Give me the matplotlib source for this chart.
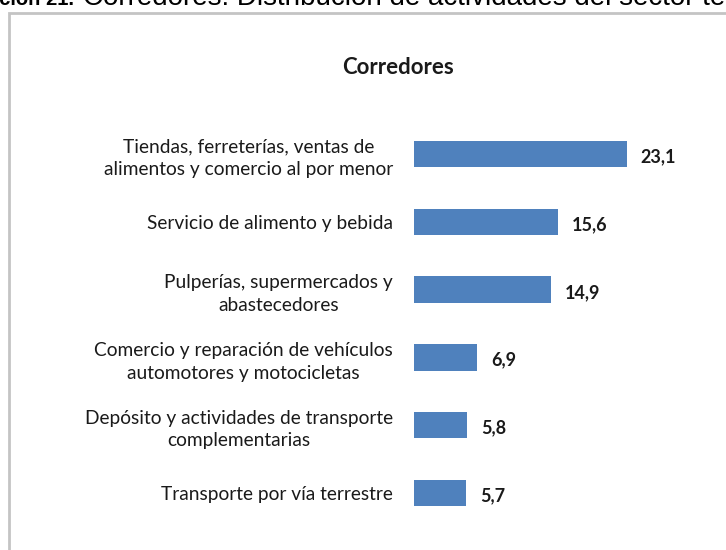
import matplotlib.pyplot as plt
from matplotlib.patches import Rectangle

# data (percent)
categories = [
    "Tiendas, ferreterías, ventas de\nalimentos y comercio al por menor",
    "Servicio de alimento y bebida",
    "Pulperías, supermercados y\nabastecedores",
    "Comercio y reparación de vehículos\nautomotores y motocicletas",
    "Depósito y actividades de transporte\ncomplementarias",
    "Transporte por vía terrestre",
]
values = [23.1, 15.6, 14.9, 6.9, 5.8, 5.7]
value_labels = ["23,1", "15,6", "14,9", "6,9", "5,8", "5,7"]

W, H = 726, 550
FONT = ["Lato", "DejaVu Sans"]
TXT = "#1a1a1a"
BAR = "#4f81bd"

plt.rcParams["font.family"] = FONT

fig = plt.figure(figsize=(W / 100, H / 100), dpi=100)

# outer chart frame (cut off at right and bottom like the screenshot)
fig.patches.append(Rectangle((9 / W, -0.1), 2.0, 1 - 13 / H + 0.1,
                             transform=fig.transFigure, fill=False,
                             edgecolor="#c4c4c4", linewidth=2.0))

# caption line cut off at the top of the screenshot
cap = ["Liberation Sans", "DejaVu Sans"]
fig.text(74 / W, 1 - 5 / H, "ación 21.", fontsize=14.5, fontweight="bold",
         family=cap, color="#000000", ha="right", va="baseline")
fig.text(83 / W, 1 - 5 / H, "Corredores: Distribución de actividades del sector te",
         fontsize=20, family=cap, color="#000000", ha="left", va="baseline")

# axes placed so that the bars start at x=414 px
px_per_unit = 9.2
left_px, right_px = 414, 710
top_px, bot_px = 120, 527
ax = fig.add_axes([left_px / W, 1 - bot_px / H,
                   (right_px - left_px) / W, (bot_px - top_px) / H])
ax.set_xlim(0, (right_px - left_px) / px_per_unit)
ax.set_ylim(len(values) - 0.5, -0.5)

ypos = list(range(len(values)))
ax.barh(ypos, values, height=0.39, color=BAR)

for y, v, lab in zip(ypos, values, value_labels):
    ax.annotate(lab, (v, y), xytext=(10, -2), textcoords="offset points",
                ha="left", va="center", fontsize=13, fontweight="bold",
                color=TXT)

ax.set_yticks(ypos)
ax.set_yticklabels(categories, fontsize=13.8, color=TXT,
                   multialignment="center", linespacing=1.4)
ax.tick_params(axis="y", length=0, pad=15)
ax.set_xticks([])
for s in ax.spines.values():
    s.set_visible(False)
ax.patch.set_alpha(0)

fig.text(398 / W, 1 - 68 / H, "Corredores", fontsize=16, fontweight="bold",
         color=TXT, ha="center", va="center")

fig.savefig("out.png", dpi=100)
